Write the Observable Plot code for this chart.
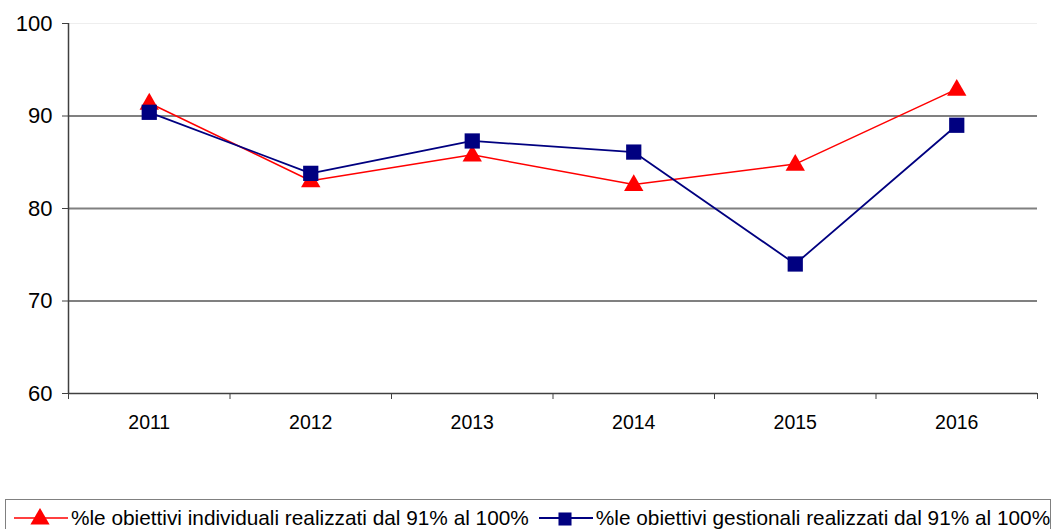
<!DOCTYPE html>
<html>
<head>
<meta charset="utf-8">
<script src="https://cdn.jsdelivr.net/npm/d3@7"></script>
<script src="https://cdn.jsdelivr.net/npm/@observablehq/plot@0.6"></script>
<style>
  html, body { margin: 0; padding: 0; background: #fff; }
  body { width: 1056px; height: 529px; overflow: hidden; position: relative; font-family: "Liberation Sans", Arial, sans-serif; }
  #legend { position: absolute; left: 5px; top: 499px; width: 1046px; height: 40px; border: 1px solid #808080; box-sizing: border-box; display: flex; align-items: flex-start; padding-top: 6px; font-size: 20.8px; color: #000; }
  .item { display: flex; align-items: center; white-space: nowrap; }
  .item svg { display: block; }
</style>
</head>
<body>
<div id="chart"></div>
<div id="legend"></div>
<script>
const years = [2011, 2012, 2013, 2014, 2015, 2016];
const individuali = [91.4, 83.0, 85.8, 82.6, 84.8, 92.9];
const gestionali = [90.4, 83.8, 87.3, 86.1, 74.0, 89.0];
const seriesNames = [
  "%le obiettivi individuali realizzati dal 91% al 100%",
  "%le obiettivi gestionali realizzati dal 91% al 100%"
];
const yTicks = [60, 70, 80, 90, 100];
const gridValues = [70, 80, 90];

const rows = years.flatMap((year, i) => [
  {year, value: individuali[i], series: seriesNames[0]},
  {year, value: gestionali[i], series: seriesNames[1]}
]);
const redRows = rows.filter(d => d.series === seriesNames[0]);
const blueRows = rows.filter(d => d.series === seriesNames[1]);
// category boundaries sit halfway between consecutive years
const bounds = [years[0] - 0.5, ...years.map(y => y + 0.5)];

const chart = Plot.plot({
  width: 1056,
  height: 497,
  marginLeft: 68,
  marginRight: 19,
  marginTop: 23,
  marginBottom: 104,
  style: {fontFamily: "'Liberation Sans', Arial, sans-serif", background: "#fff", color: "#000"},
  x: {type: "linear", domain: [bounds[0], bounds[bounds.length - 1]]},
  y: {domain: [60, 100]},
  marks: [
    Plot.ruleY([100], {stroke: "#eeeeee", strokeWidth: 1}),
    Plot.ruleY(gridValues, {stroke: "#808080", strokeWidth: 2}),
    Plot.axisY({ticks: yTicks, tickSize: 6, tickPadding: 10, fontSize: 22, stroke: "#404040", label: null, tickFormat: d => String(d)}),
    Plot.axisX({ticks: years, tickSize: 0, tickPadding: 22, fontSize: 19.5, label: null, tickFormat: d => String(d)}),
    Plot.axisX({ticks: bounds, tickSize: 6, stroke: "#404040", tickFormat: () => "", label: null}),
    Plot.ruleX([bounds[0]], {stroke: "#404040", strokeWidth: 1.5}),
    Plot.ruleY([60], {stroke: "#404040", strokeWidth: 1.5}),
    Plot.line(redRows, {x: "year", y: "value", stroke: "#ff0000", strokeWidth: 1.5}),
    Plot.line(blueRows, {x: "year", y: "value", stroke: "#000080", strokeWidth: 1.8}),
    Plot.dot(redRows, {x: "year", y: "value", symbol: "triangle", fill: "#ff0000", r: 7.2, dy: 1}),
    Plot.dot(blueRows, {x: "year", y: "value", symbol: "square", fill: "#000080", r: 8.6})
  ]
});
document.getElementById("chart").appendChild(chart);

// legend: line sample with marker, followed by the series name
const legend = d3.select("#legend");
const legendStyles = [
  {color: "#ff0000", symbol: d3.symbolTriangle, size: 160, width: 1.5},
  {color: "#000080", symbol: d3.symbolSquare, size: 170, width: 1.8}
];
seriesNames.forEach((name, i) => {
  const s = legendStyles[i];
  const item = legend.append("div").attr("class", "item").style("margin-left", i === 0 ? "7px" : "9px");
  const svg = item.append("svg").attr("width", 56).attr("height", 22);
  svg.append("line").attr("x1", 1).attr("x2", 55).attr("y1", 11).attr("y2", 11)
    .attr("stroke", s.color).attr("stroke-width", s.width);
  svg.append("path").attr("transform", "translate(27,12)")
    .attr("d", d3.symbol(s.symbol, s.size)()).attr("fill", s.color);
  item.append("span").style("margin-left", "2px").text(name);
});
</script>
</body>
</html>
